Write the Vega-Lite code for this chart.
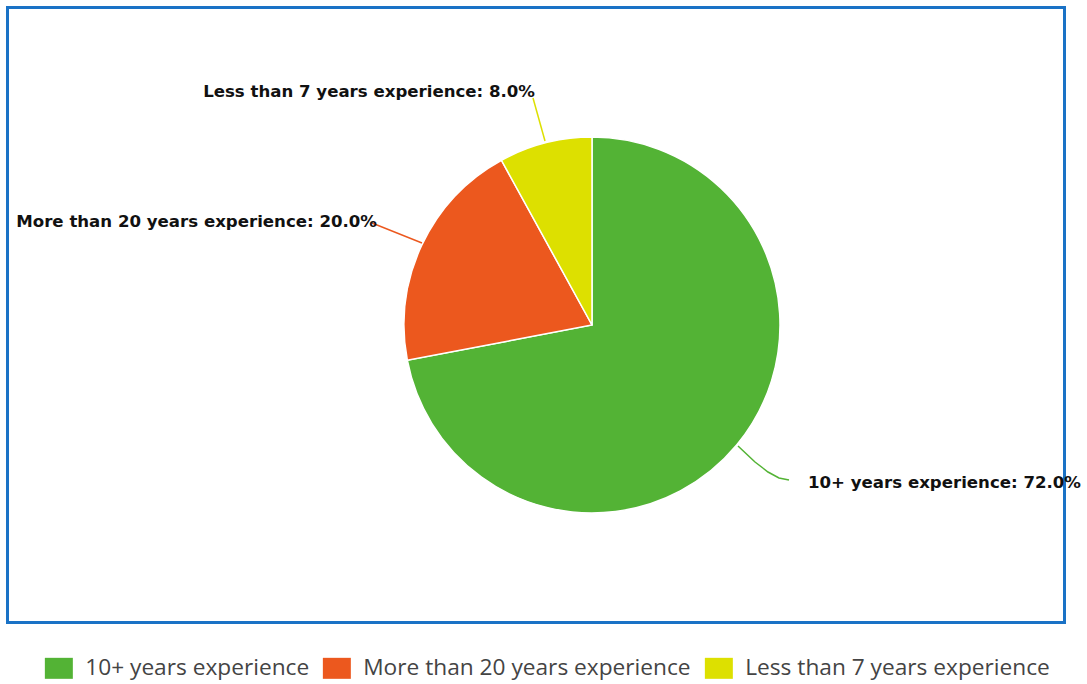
{
  "$schema": "https://vega.github.io/schema/vega-lite/v6.json",
  "width": 1057,
  "height": 615,
  "autosize": {"type": "none"},
  "padding": {"left": 7.5, "top": 7.5, "right": 22.5, "bottom": 61.5},
  "background": "white",
  "config": {
    "view": {"stroke": "#1a72c6", "strokeWidth": 3},
    "legend": {
      "title": null,
      "labelFont": "Open Sans",
      "labelFontSize": 22.7,
      "labelColor": "#444444",
      "labelLimit": 600,
      "labelOffset": 15,
      "columnPadding": 13,
      "symbolType": "M-1.333,-1L1.333,-1L1.333,1L-1.333,1Z",
      "symbolSize": 441,
      "symbolStrokeWidth": 0
    }
  },
  "datasets": {
    "slices": [
      {"category": "10+ years experience", "percent": 72, "rank": 1},
      {"category": "More than 20 years experience", "percent": 20, "rank": 2},
      {"category": "Less than 7 years experience", "percent": 8, "rank": 3}
    ],
    "leaders": [
      {"category": "10+ years experience", "step": 1, "px": 146, "py": -121},
      {"category": "10+ years experience", "step": 2, "px": 163, "py": -137},
      {"category": "10+ years experience", "step": 3, "px": 176, "py": -147},
      {"category": "10+ years experience", "step": 4, "px": 187, "py": -153},
      {"category": "10+ years experience", "step": 5, "px": 197, "py": -155},
      {"category": "More than 20 years experience", "step": 1, "px": -170, "py": 82},
      {"category": "More than 20 years experience", "step": 2, "px": -220, "py": 102},
      {"category": "Less than 7 years experience", "step": 1, "px": -47, "py": 184},
      {"category": "Less than 7 years experience", "step": 2, "px": -59, "py": 227}
    ],
    "labels": [
      {"label": "10+ years experience: 72.0%", "px": 216, "py": -158, "side": "left"},
      {"label": "More than 20 years experience: 20.0%", "px": -215, "py": 103, "side": "right"},
      {"label": "Less than 7 years experience: 8.0%", "px": -57, "py": 233, "side": "right"}
    ]
  },
  "resolve": {"legend": {"color": "independent"}},
  "layer": [
    {
      "data": {"name": "slices"},
      "mark": {"type": "arc", "outerRadius": 188, "stroke": "white", "strokeWidth": 1.5},
      "encoding": {
        "x": {"datum": 0, "type": "quantitative", "scale": {"domain": [-584.5, 472.5], "nice": false, "zero": false}, "axis": null},
        "y": {"datum": 0, "type": "quantitative", "scale": {"domain": [-297.5, 317.5], "nice": false, "zero": false}, "axis": null},
        "theta": {"field": "percent", "type": "quantitative", "stack": true},
        "order": {"field": "rank", "type": "quantitative"},
        "color": {
          "field": "category",
          "type": "nominal",
          "scale": {
            "domain": ["10+ years experience", "More than 20 years experience", "Less than 7 years experience"],
            "range": ["#53b335", "#ec581e", "#dde000"]
          },
          "sort": null,
          "legend": {"orient": "none", "direction": "horizontal", "legendX": 40, "legendY": 649}
        }
      }
    },
    {
      "data": {"name": "leaders"},
      "mark": {"type": "line", "strokeWidth": 1.5, "interpolate": "linear"},
      "encoding": {
        "x": {"field": "px", "type": "quantitative"},
        "y": {"field": "py", "type": "quantitative"},
        "order": {"field": "step", "type": "quantitative"},
        "color": {"field": "category", "type": "nominal", "legend": null}
      }
    },
    {
      "data": {"name": "labels"},
      "transform": [{"filter": "datum.side === 'left'"}],
      "mark": {"type": "text", "align": "left", "baseline": "middle", "font": "DejaVu Sans", "fontWeight": "bold", "fontSize": 16.6, "color": "#111111"},
      "encoding": {
        "x": {"field": "px", "type": "quantitative"},
        "y": {"field": "py", "type": "quantitative"},
        "text": {"field": "label"}
      }
    },
    {
      "data": {"name": "labels"},
      "transform": [{"filter": "datum.side === 'right'"}],
      "mark": {"type": "text", "align": "right", "baseline": "middle", "font": "DejaVu Sans", "fontWeight": "bold", "fontSize": 16.6, "color": "#111111"},
      "encoding": {
        "x": {"field": "px", "type": "quantitative"},
        "y": {"field": "py", "type": "quantitative"},
        "text": {"field": "label"}
      }
    }
  ]
}
